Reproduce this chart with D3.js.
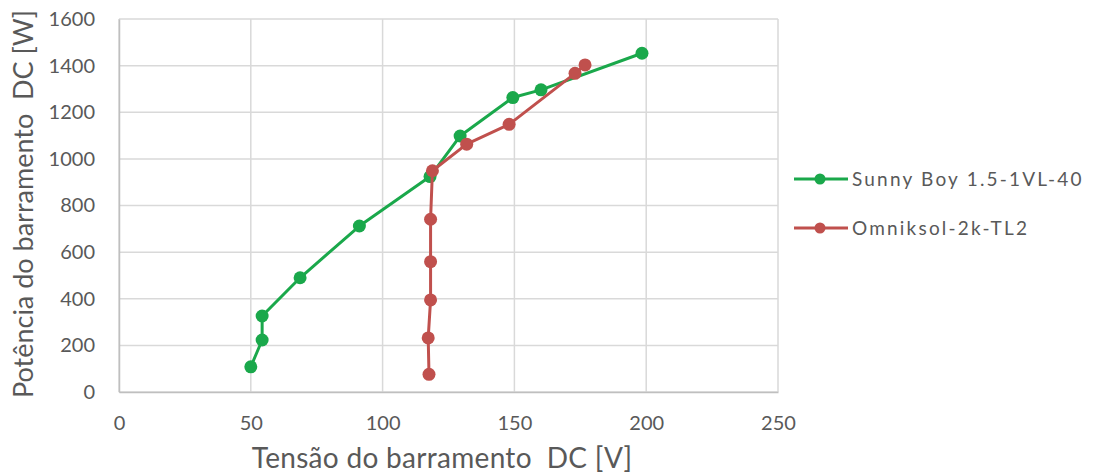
<!DOCTYPE html>
<html><head><meta charset="utf-8">
<script src="https://cdn.jsdelivr.net/npm/d3@7"></script>
<style>body{margin:0;background:#fff}svg{display:block}text{white-space:pre}</style>
</head><body>
<script>
const sunnyV = [50, 54.3, 54.3, 68.7, 91.2, 118, 129.4, 149.4, 160.1, 198.4];
const sunnyP = [108, 223, 326, 490, 712, 924, 1098, 1263, 1296, 1453];
const omniV = [117.6, 117.3, 118.2, 118.2, 118.2, 118.9, 131.9, 148, 173, 176.8];
const omniP = [76, 232, 395, 559, 741, 949, 1063, 1148, 1367, 1403];
const seriesNames = ["Sunny Boy 1.5-1VL-40", "Omniksol-2k-TL2"];
const seriesColors = ["#1AA84B", "#C0504D"];
const xTicks = [0, 50, 100, 150, 200, 250];
const yTicks = [0, 200, 400, 600, 800, 1000, 1200, 1400, 1600];
const xTitle = "Tensão do barramento  DC [V]";
const yTitle = "Potência do barramento  DC [W]";

const W = 1094, H = 474;
const m = {l: 119, t: 19, r: 778, b: 392};
const svg = d3.select("body").append("svg").attr("width", W).attr("height", H);
const font = "Lato, 'Open Sans', sans-serif";
const x = d3.scaleLinear().domain([0, 250]).range([m.l, m.r]);
const y = d3.scaleLinear().domain([0, 1600]).range([m.b, m.t]);

// gridlines
svg.append("g").selectAll("line").data(xTicks).join("line")
  .attr("x1", d => x(d)).attr("x2", d => x(d)).attr("y1", m.t).attr("y2", m.b)
  .attr("stroke", "#d9d9d9").attr("stroke-width", 1.5);
svg.append("g").selectAll("line").data(yTicks).join("line")
  .attr("x1", m.l).attr("x2", m.r).attr("y1", d => y(d)).attr("y2", d => y(d))
  .attr("stroke", "#d9d9d9").attr("stroke-width", 1.5);

// axes
const xa = svg.append("g").attr("transform", `translate(0,${m.b})`)
  .call(d3.axisBottom(x).tickValues(xTicks).tickFormat(d3.format("d")).tickSize(0).tickPadding(24));
const ya = svg.append("g").attr("transform", `translate(${m.l},0)`)
  .call(d3.axisLeft(y).tickValues(yTicks).tickFormat(d3.format("d")).tickSize(0).tickPadding(24));
[xa, ya].forEach(a => {
  a.select(".domain").attr("stroke", "#bfbfbf").attr("stroke-width", 1.5);
  a.selectAll("text").attr("font-family", font).attr("font-size", 20).attr("fill", "#595959");
});

svg.append("text").attr("x", 442).attr("y", 468).attr("text-anchor", "middle")
  .attr("font-family", font).attr("font-size", 28).attr("letter-spacing", 0.3).attr("fill", "#595959").text(xTitle);
svg.append("text").attr("transform", `translate(33,204) rotate(-90)`).attr("text-anchor", "middle")
  .attr("font-family", font).attr("font-size", 27).attr("fill", "#595959").text(yTitle);

const series = [
  {v: sunnyV, p: sunnyP},
  {v: omniV, p: omniP}
];
const line = d3.line().x(d => x(d[0])).y(d => y(d[1]));
series.forEach((s, i) => {
  const pts = s.v.map((v, j) => [v, s.p[j]]);
  svg.append("path").datum(pts).attr("d", line).attr("fill", "none")
    .attr("stroke", seriesColors[i]).attr("stroke-width", 3).attr("stroke-linejoin", "round");
  svg.append("g").selectAll("circle").data(pts).join("circle")
    .attr("cx", d => x(d[0])).attr("cy", d => y(d[1])).attr("r", 6.5)
    .attr("fill", seriesColors[i]);
});

// legend
const lg = svg.append("g").selectAll("g").data(seriesNames).join("g")
  .attr("transform", (d, i) => `translate(794,${179 + i * 49})`);
lg.append("line").attr("x1", 0).attr("x2", 54).attr("stroke", (d, i) => seriesColors[i]).attr("stroke-width", 3);
lg.append("circle").attr("cx", 26).attr("r", 5.5).attr("fill", (d, i) => seriesColors[i]);
lg.append("text").attr("x", 58).attr("dy", "0.35em").attr("font-family", font).attr("font-size", 19)
  .attr("letter-spacing", 2.2).attr("fill", "#595959").text(d => d);
</script>
</body></html>
